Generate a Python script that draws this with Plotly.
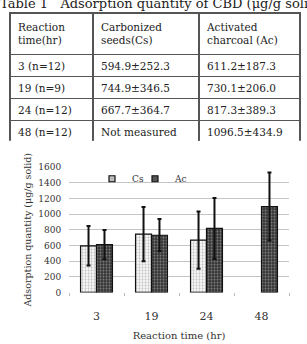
import plotly.graph_objects as go

W, H = 307, 344

table_title = "Table 1   Adsorption quantity of CBD (\u03bcg/g solid)"
header_labels = ["Reaction<br>time(hr)", "Carbonized<br>seeds(Cs)", "Activated<br>charcoal (Ac)"]
reaction_rows = ["3 (n=12)", "19 (n=9)", "24 (n=12)", "48 (n=12)"]
cs_rows = ["594.9\u00b1252.3", "744.9\u00b1346.5", "667.7\u00b1364.7", "Not measured"]
ac_rows = ["611.2\u00b1187.3", "730.1\u00b1206.0", "817.3\u00b1389.3", "1096.5\u00b1434.9"]

categories = ["3", "19", "24", "48"]
cs_mean = [594.9, 744.9, 667.7, None]
cs_sd = [252.3, 346.5, 364.7, None]
ac_mean = [611.2, 730.1, 817.3, 1096.5]
ac_sd = [187.3, 206.0, 389.3, 434.9]
y_ticks = [0, 200, 400, 600, 800, 1000, 1200, 1400, 1600]

SERIF = "DejaVu Serif"
LINE = "#555555"

def px_x(v):
    return v / W

def px_y(v):
    return 1 - v / H

fig = go.Figure()

fig.add_trace(go.Table(
    domain=dict(x=[px_x(10), px_x(300)], y=[px_y(140), px_y(8)]),
    columnwidth=[83, 106, 101],
    header=dict(values=header_labels, height=35, align="left",
                line=dict(color=LINE, width=1.5), fill=dict(color="white"),
                font=dict(family=SERIF, size=10.5, color="#222")),
    cells=dict(values=[reaction_rows, cs_rows, ac_rows], height=22, align="left",
               line=dict(color=LINE, width=1.5), fill=dict(color="white"),
               font=dict(family=SERIF, size=10.5, color="#222")),
))

fig.add_trace(go.Bar(
    x=categories, y=cs_mean, name="Cs", showlegend=False,
    marker=dict(color="white", line=dict(color="#111", width=1.2),
                pattern=dict(shape=".", fgcolor="#888", bgcolor="white", size=3, solidity=0.45)),
    error_y=dict(type="data", array=cs_sd, color="#111", thickness=2, width=2),
))
fig.add_trace(go.Bar(
    x=categories, y=ac_mean, name="Ac", showlegend=False,
    marker=dict(color="#444", line=dict(color="#111", width=1.2),
                pattern=dict(shape=".", fgcolor="#cfcfcf", bgcolor="#333333", size=3, solidity=0.35)),
    error_y=dict(type="data", array=ac_sd, color="#111", thickness=2, width=2),
))

# legend swatches
fig.add_trace(go.Scatter(x=[None], y=[None], mode="markers", name="Cs", legend="legend",
                         marker=dict(symbol="square", size=6, color="#bbb", line=dict(color="#111", width=1.2))))
fig.add_trace(go.Scatter(x=[None], y=[None], mode="markers", name="Ac", legend="legend2",
                         marker=dict(symbol="square", size=6, color="#555", line=dict(color="#111", width=1.2))))

legend_style = dict(orientation="h", xanchor="left", yanchor="top",
                    bgcolor="rgba(0,0,0,0)", font=dict(family=SERIF, size=9, color="#333"),
                    itemwidth=30)

fig.update_layout(
    width=W, height=H,
    margin=dict(l=0, r=0, t=0, b=0),
    paper_bgcolor="white", plot_bgcolor="white",
    barmode="group", bargap=0.42, bargroupgap=0,
    font=dict(family=SERIF, size=10, color="#333"),
    showlegend=True,
    legend=dict(x=px_x(92), y=px_y(164), **legend_style),
    legend2=dict(x=px_x(135), y=px_y(164), **legend_style),
    xaxis=dict(domain=[px_x(69), px_x(289)], type="category",
               showline=False, zeroline=False, showgrid=False,
               ticks="outside", tickson="boundaries", ticklen=3, tickcolor="#bbb",
               ticklabelstandoff=16, tickfont=dict(family=SERIF, size=11, color="#333"),
               title=dict(text="Reaction time (hr)", standoff=9,
                          font=dict(family=SERIF, size=10, color="#333"))),
    yaxis=dict(domain=[px_y(296), px_y(167)], range=[0, 1600],
               tickvals=y_ticks, showline=False, zeroline=False,
               showgrid=True, gridcolor="#c4c4c4", gridwidth=1,
               ticks="outside", ticklen=5, tickcolor="rgba(0,0,0,0)",
               tickfont=dict(family=SERIF, size=9, color="#333"),
               title=dict(text="Adsorption quantity (\u03bcg/g solid)", standoff=4,
                          font=dict(family=SERIF, size=9.5, color="#333"))),
    annotations=[dict(text=table_title, x=px_x(160), y=px_y(-2), xref="paper", yref="paper",
                      xanchor="center", yanchor="middle", showarrow=False,
                      font=dict(family=SERIF, size=13, color="#222"))],
)

fig.write_html("out.html")
